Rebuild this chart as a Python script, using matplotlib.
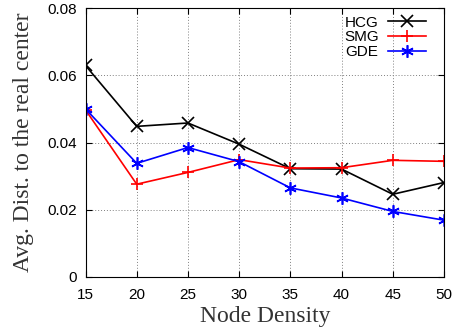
import matplotlib
matplotlib.use("Agg")
import matplotlib.pyplot as plt

density = [15, 20, 25, 30, 35, 40, 45, 50]
hcg = [0.0629, 0.0448, 0.0458, 0.0395, 0.0322, 0.0321, 0.0246, 0.0281]
smg = [0.0497, 0.0276, 0.0311, 0.0349, 0.0324, 0.0325, 0.0347, 0.0344]
gde = [0.0500, 0.0338, 0.0385, 0.0343, 0.0265, 0.0235, 0.0195, 0.0169]

x_ticks = [15, 20, 25, 30, 35, 40, 45, 50]
y_ticks = [0, 0.02, 0.04, 0.06, 0.08]
y_labels = ["0", "0.02", "0.04", "0.06", "0.08"]

fig = plt.figure(figsize=(4.54, 3.33), dpi=100)
ax = fig.add_axes([85.5 / 454, 1 - 277 / 333, (444 - 85.5) / 454, (277 - 8) / 333])

ax.plot(density, hcg, color="black", marker="x", markersize=8, mew=1.2, lw=1.2, label="HCG")
ax.plot(density, smg, color="red", marker="+", markersize=9, mew=1.2, lw=1.2, label="SMG")
ax.plot(density, gde, color="blue", marker=(6, 2, 0), markersize=9, mew=1.2, lw=1.2, label="GDE")

ax.set_xlim(15, 50)
ax.set_ylim(0, 0.08)
ax.set_xticks(x_ticks)
ax.set_yticks(y_ticks)
ax.set_yticklabels(y_labels)
ax.tick_params(direction="in", top=True, right=True, labelsize=11, length=4)
ax.tick_params(axis="x", pad=8)
ax.tick_params(axis="y", pad=6)
for lab in ax.get_xticklabels() + ax.get_yticklabels():
    lab.set_family("Liberation Sans")
ax.grid(True, color="gray", linestyle=(0, (1, 2)), linewidth=0.7)

ax.set_xlabel("Node Density", family="Liberation Serif", fontsize=17, color="#333333", labelpad=3)
ax.set_ylabel("Avg. Dist. to the real center", family="Liberation Serif", fontsize=17,
              color="#333333", labelpad=10)

leg = ax.legend(loc="upper right", frameon=False, markerfirst=False,
                prop={"family": "Liberation Sans", "size": 11},
                handlelength=2.5, handletextpad=0.6, labelspacing=0.05,
                borderaxespad=0.2, borderpad=0.3, bbox_to_anchor=(0.971, 1.0))

fig.savefig("out.png", dpi=100)
